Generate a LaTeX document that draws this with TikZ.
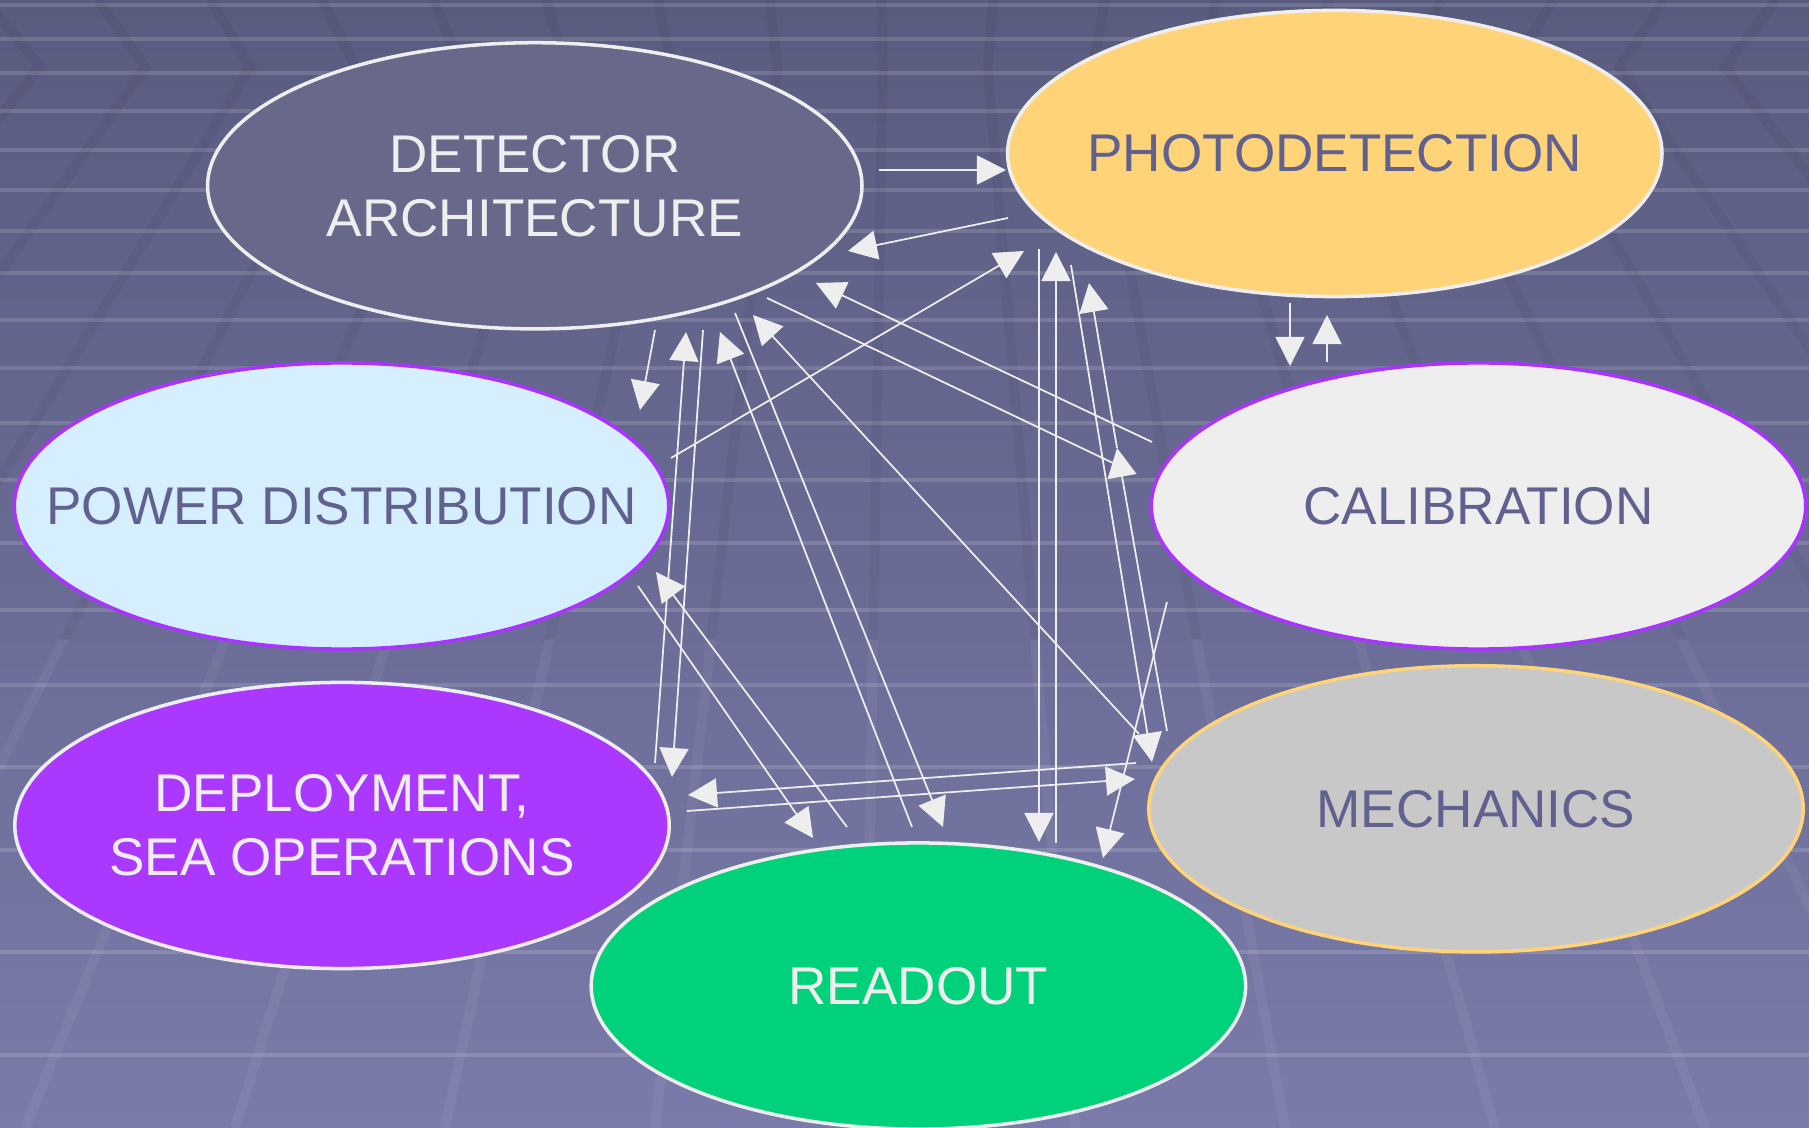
\documentclass[tikz,border=0pt]{standalone}
\usepackage{fontspec}
\setmainfont{Liberation Sans}
\usetikzlibrary{shapes.geometric,arrows.meta}
\definecolor{bgtop}{HTML}{595B7F}
\definecolor{bgbottom}{HTML}{7A7BAA}
\definecolor{slatetext}{HTML}{60618E}
\definecolor{offwhite}{HTML}{EEEEEE}
\definecolor{archfill}{HTML}{67688A}
\definecolor{goldfill}{HTML}{FFD479}
\definecolor{skyfill}{HTML}{D6EFFF}
\definecolor{violetline}{HTML}{AA33FF}
\definecolor{violetfill}{HTML}{AB38FF}
\definecolor{greyfill}{HTML}{C8C8C8}
\definecolor{greenfill}{HTML}{00D17A}

\begin{document}
\begin{tikzpicture}[x=0.01cm, y=-0.01cm,
    bubble/.style={ellipse, draw=offwhite, line width=1pt, minimum width=6.54cm,
                   minimum height=2.86cm, inner sep=0pt},
    tag/.style={align=center, inner sep=0pt, font=\fontsize{15.1}{18.2}\selectfont},
    arrow/.style={-{Triangle[length=0.29cm, width=0.29cm]}, line width=0.5pt, offwhite},
    plain/.style={line width=0.5pt, offwhite},
    band/.style={white, opacity=0.14, line width=0.04cm},
    stripe/.style={line width=0.1cm}
]

% background
\useasboundingbox (0,0) rectangle (1809,1128);
\shade[top color=bgtop, bottom color=bgbottom] (0,0) rectangle (1809,1128);
\foreach \y in {5,39,73,111,150,190,231,273,320,368,423,480,543,610,685,767,850,952,1055}
    \draw[band] (0,\y) -- (1809,\y);
\begin{scope}
    \clip (0,0) rectangle (1809,640);
    \foreach \i in {-8,...,8} {
        \pgfmathsetmacro{\xb}{865+210*\i}
        \pgfmathsetmacro{\xm}{900+(\xb-900)*0.5014}
        \pgfmathsetmacro{\xt}{\xm+(\xm-900)*0.0628}
        \draw[stripe, black, opacity=0.045] (\xt,0) -- (\xm,67) -- (\xb,1128);
    }
\end{scope}
\begin{scope}
    \clip (0,640) rectangle (1809,1128);
    \foreach \i in {-8,...,8} {
        \pgfmathsetmacro{\xb}{865+210*\i}
        \draw[stripe, white, opacity=0.05] (900,67) ++({(\xb-900)*0.5014},0) -- (\xb,1128);
    }
\end{scope}

% work packages
\node[bubble, fill=archfill] (arch) at (534.8,185.8) {};
\node[bubble, fill=goldfill] (photo) at (1334.8,153.5) {};
\node[bubble, fill=skyfill, draw=violetline] (power) at (341.5,506) {};
\node[bubble, fill=offwhite, draw=violetline] (calib) at (1478.5,506) {};
\node[bubble, fill=violetfill] (deploy) at (342,825.5) {};
\node[bubble, fill=greyfill, draw=goldfill] (mech) at (1476,808.8) {};
\node[bubble, fill=greenfill] (readout) at (918.4,986) {};

\node[tag, text=offwhite] (arch-t) at (arch) {DETECTOR\\ARCHITECTURE};
\node[tag, text=slatetext] (photo-t) at (photo) {PHOTODETECTION};
\node[tag, text=slatetext] (power-t) at (power) {POWER DISTRIBUTION};
\node[tag, text=slatetext] (calib-t) at (calib) {CALIBRATION};
\node[tag, text=offwhite] (deploy-t) at (deploy) {DEPLOYMENT,\\SEA OPERATIONS};
\node[tag, text=slatetext] (mech-t) at (mech) {MECHANICS};
\node[tag, text=offwhite] (readout-t) at (readout) {READOUT};

% link ends
\coordinate (a2p-s) at (879,170);   \coordinate (a2p-e) at (1006,170);
\coordinate (p2a-s) at (1008,218);  \coordinate (p2a-e) at (848,251);
\coordinate (w2p-s) at (671,458);   \coordinate (w2p-e) at (1024,251);
\coordinate (p2r-s) at (1039,249);  \coordinate (p2r-e) at (1039,842);
\coordinate (r2p-s) at (1056,843);  \coordinate (r2p-e) at (1056,252);
\coordinate (p2m-s) at (1071,265);  \coordinate (p2m-e) at (1152,762);
\coordinate (m2p-s) at (1167,731);  \coordinate (m2p-m) at (1117,448);
\coordinate (m2p-e) at (1089,283);
\coordinate (p2c-s) at (1290,303);  \coordinate (p2c-e) at (1290,366);
\coordinate (c2p-s) at (1327,362);  \coordinate (c2p-e) at (1327,315);
\coordinate (c2a-s) at (1152,442);  \coordinate (c2a-e) at (816,283);
\coordinate (a2c-s) at (767,298);   \coordinate (a2c-e) at (1113,463);
\coordinate (a2w-s) at (655,330);   \coordinate (a2w-e) at (640,410);
\coordinate (d2a-s) at (655,763);   \coordinate (d2a-e) at (686,332);
\coordinate (a2d-s) at (703,330);   \coordinate (a2d-e) at (672,777);
\coordinate (r2a-s) at (912,827);   \coordinate (r2a-e) at (720,332);
\coordinate (a2r-s) at (735,313);   \coordinate (a2r-e) at (943,827);
\coordinate (m2a-s) at (1139,734);  \coordinate (m2a-e) at (753,315);
\coordinate (w2r-s) at (638,586);   \coordinate (w2r-e) at (813,838);
\coordinate (r2w-s) at (847,827);   \coordinate (r2w-e) at (656,572);
\coordinate (m2d-s) at (1136,763);  \coordinate (m2d-e) at (688,795);
\coordinate (d2m-s) at (687,811);   \coordinate (d2m-e) at (1135,779);
\coordinate (c2r-s) at (1167,602);  \coordinate (c2r-e) at (1103,858);

% links
\foreach \s/\e in {a2p-s/a2p-e, p2a-s/p2a-e, w2p-s/w2p-e, p2r-s/p2r-e, r2p-s/r2p-e,
                   p2m-s/p2m-e, m2p-s/m2p-m, m2p-m/m2p-e, p2c-s/p2c-e, c2p-s/c2p-e,
                   c2a-s/c2a-e, a2w-s/a2w-e, d2a-s/d2a-e, a2d-s/a2d-e, r2a-s/r2a-e,
                   a2r-s/a2r-e, m2a-s/m2a-e, w2r-s/w2r-e, r2w-s/r2w-e, m2d-s/m2d-e,
                   d2m-s/d2m-e, c2r-s/c2r-e}
    \draw[arrow] (\s) -- (\e);
\draw[plain] (a2c-s) -- (a2c-e);

\end{tikzpicture}
\end{document}
